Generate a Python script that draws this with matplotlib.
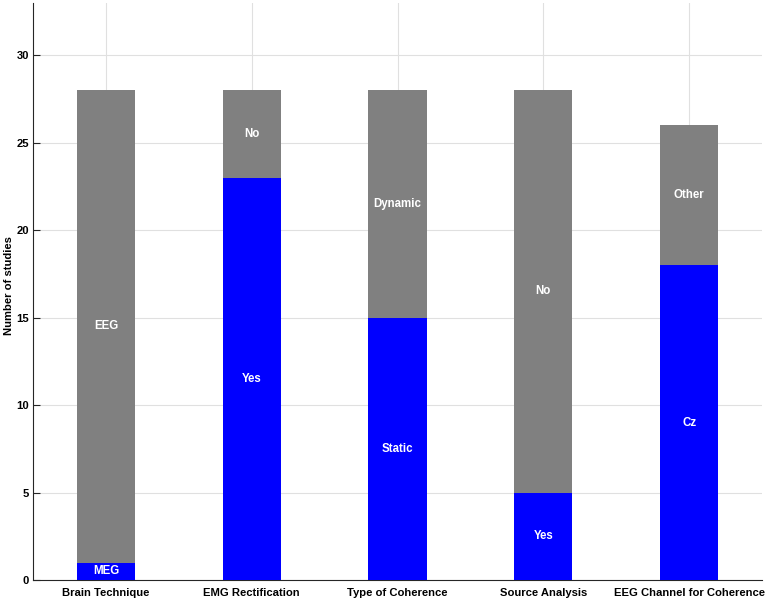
import matplotlib
matplotlib.use("Agg")
import matplotlib.pyplot as plt
import numpy as np

plt.rcParams['font.family'] = ['Liberation Sans', 'DejaVu Sans']

categories = ["Brain Technique", "EMG Rectification", "Type of Coherence",
              "Source Analysis", "EEG Channel for Coherence"]
bottom_vals = [1, 23, 15, 5, 18]
top_vals = [27, 5, 13, 23, 8]
bottom_labels = ["MEG", "Yes", "Static", "Yes", "Cz"]
top_labels = ["EEG", "No", "Dynamic", "No", "Other"]
yticks = [0, 5, 10, 15, 20, 25, 30]

fig = plt.figure(figsize=(7.67, 6.0), dpi=100)
ax = fig.add_axes([33/767, 20/600, (762-33)/767, (597-20)/600])

x = np.arange(1, len(categories) + 1)
ax.bar(x, bottom_vals, width=0.4, color=(0, 0, 1), zorder=3)
ax.bar(x, top_vals, width=0.4, bottom=bottom_vals, color=(0.5, 0.5, 0.5), zorder=3)

for xi, b, t, bl, tl in zip(x, bottom_vals, top_vals, bottom_labels, top_labels):
    ax.text(xi, b / 2, bl, ha='center', va='center', color='white',
            fontweight='bold', fontsize=8.3, zorder=4)
    ax.text(xi, b + t / 2, tl, ha='center', va='center', color='white',
            fontweight='bold', fontsize=8.3, zorder=4)

ax.set_xlim(0.5, 5.5)
ax.set_ylim(0, 33)
ax.set_xticks(x)
ax.set_xticklabels(categories, fontweight='bold', fontsize=8.1)
ax.set_yticks(yticks)
ax.set_yticklabels([str(v) for v in yticks], fontweight='bold', fontsize=8.1)
ax.set_ylabel("Number of studies", fontweight='bold', fontsize=8.1)
ax.yaxis.set_label_coords(-19/729, 0.51)

ax.grid(True, color=(0.88, 0.88, 0.88), linewidth=0.8, zorder=0)
ax.set_axisbelow(True)
for s in ['top', 'right']:
    ax.spines[s].set_visible(False)
for s in ['left', 'bottom']:
    ax.spines[s].set_color((0.15, 0.15, 0.15))
    ax.spines[s].set_linewidth(0.8)
ax.tick_params(direction='in', length=5, width=0.8, colors=(0.15, 0.15, 0.15),
               labelcolor='black', pad=3)
ax.tick_params(axis='x', length=0, pad=6)

fig.savefig("out.png", dpi=100)
